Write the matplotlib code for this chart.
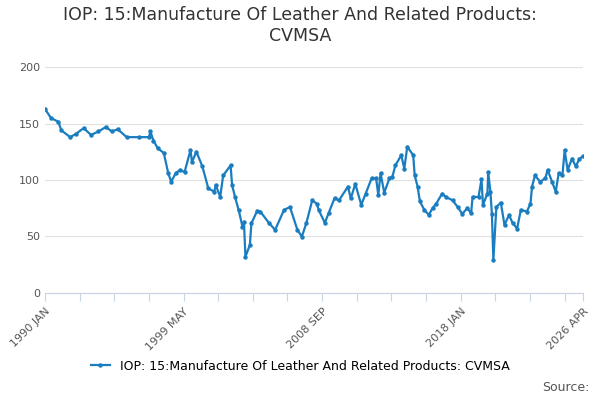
import numpy as np
import matplotlib.pyplot as plt

years = [1990.0, 1990.4, 1990.9, 1991.1, 1991.7, 1992.1, 1992.6, 1993.1, 1993.6, 1994.1,
         1994.5, 1994.9, 1995.5, 1996.3, 1997.0, 1997.1, 1997.3, 1997.6, 1998.0, 1998.3,
         1998.5, 1998.8, 1999.1, 1999.4, 1999.8, 1999.9, 2000.2, 2000.6, 2001.0, 2001.4,
         2001.5, 2001.8, 2002.0, 2002.5, 2002.6, 2002.8, 2003.05, 2003.3, 2003.4, 2003.5,
         2003.8, 2003.9, 2004.3, 2004.5, 2005.1, 2005.5, 2006.1, 2006.5, 2007.0, 2007.3,
         2007.6, 2008.0, 2008.3, 2008.45, 2008.85, 2009.1, 2009.5, 2009.8, 2010.4, 2010.6,
         2010.9, 2011.3, 2011.6, 2012.0, 2012.3, 2012.45, 2012.6, 2012.85, 2013.2, 2013.4,
         2013.6, 2014.0, 2014.2, 2014.4, 2014.8, 2014.9, 2015.1, 2015.25, 2015.55, 2015.85,
         2016.1, 2016.35, 2016.75, 2017.0, 2017.45, 2017.8, 2018.1, 2018.45, 2018.7, 2018.8,
         2019.2, 2019.4, 2019.5, 2019.8, 2019.85, 2020.0, 2020.1, 2020.2, 2020.4, 2020.7,
         2020.95, 2021.25, 2021.5, 2021.8, 2022.05, 2022.45, 2022.7, 2022.8, 2023.0, 2023.35,
         2023.7, 2023.85, 2024.15, 2024.4, 2024.6, 2024.85, 2025.0, 2025.2, 2025.5, 2025.75,
         2026.0, 2026.25]
values = [163, 155, 151.6, 144, 138, 141, 146, 140, 143, 147,
          143, 145, 138, 138, 138, 143, 135, 128, 124, 106,
          98.5, 106, 109, 107, 126.5, 116, 125, 112, 92.6, 89.6,
          95.6, 85, 104, 113, 95.6, 85, 73, 58.7, 63, 32,
          42.5, 61.6, 72.8, 72, 61.7, 55.8, 73.5, 76, 55.8, 49.8,
          61.7, 82, 79, 73, 62, 70.5, 83.8, 82, 94, 83.8,
          96.5, 78, 88, 101.5, 101.5, 86.7, 106, 88.8, 101.5, 103,
          113, 122, 110, 129.5, 122, 104, 94, 81, 73.5, 69,
          75, 79, 88, 85, 82, 76, 70, 75, 70.5, 85,
          85, 100.6, 78, 88, 107, 89.6, 70, 29, 76, 80,
          60, 69, 61.7, 57, 73.5, 72, 79, 94, 104, 98.5,
          101.5, 109, 98.5, 89.6, 106, 104, 126.5, 109, 119, 112,
          119, 121]

tick_months = list(range(0, 436, 28)) + [435]
label_map = {0: "1990 JAN", 112: "1999 MAY", 224: "2008 SEP", 336: "2018 JAN", 435: "2026 APR"}
COLOR = "#1a7dc0"

fig, ax = plt.subplots(figsize=(6, 4), dpi=100)
fig.subplots_adjust(left=0.075, right=0.972, top=0.832, bottom=0.268)

ax.plot(years, values, color=COLOR, lw=1.6, marker="o", ms=2.2,
        label="IOP: 15:Manufacture Of Leather And Related Products: CVMSA")

ax.set_xlim(1990.0, 1990.0 + 435 / 12)
ax.set_ylim(0, 200)
ax.set_yticks([0, 50, 100, 150, 200])
ax.grid(axis="y", color="#e0e0e0", lw=0.8)
ax.set_axisbelow(True)

ticks = [1990.0 + m / 12 for m in tick_months]
ax.set_xticks(ticks)
ax.set_xticklabels([label_map.get(m, "") for m in tick_months], rotation=45, ha="right",
                   rotation_mode="anchor", fontsize=8, color="#555555")
ax.tick_params(axis="x", length=6, color="#c8d4e6")
ax.tick_params(axis="y", length=0, labelsize=8, labelcolor="#555555")
for s in ["top", "right", "left"]:
    ax.spines[s].set_visible(False)
ax.spines["bottom"].set_color("#c8d4e6")

fig.suptitle("IOP: 15:Manufacture Of Leather And Related Products:\nCVMSA",
             fontsize=12.5, color="#333333", y=0.985)
fig.legend(loc="lower center", bbox_to_anchor=(0.5, 0.04), frameon=False, fontsize=9,
           handlelength=1.5)
fig.text(0.982, 0.015, "Source:", ha="right", va="bottom", fontsize=9, color="#555555")

fig.savefig("out.png")
